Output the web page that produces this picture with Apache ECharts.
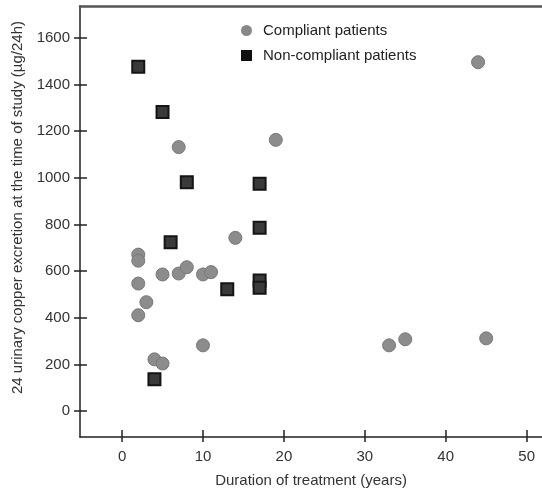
<!DOCTYPE html>
<html>
<head>
<meta charset="utf-8">
<script src="https://cdn.jsdelivr.net/npm/echarts@6/dist/echarts.min.js"></script>
<style>
  html, body { margin: 0; padding: 0; background: #fff; }
  #chart { width: 542px; height: 493px; }
</style>
</head>
<body>
<div id="chart"></div>
<script>
// duration of treatment (years) / urinary copper (µg/24h)
const compliantYears = [44, 19, 7, 14, 2, 2, 5, 7, 8, 10, 11, 2, 3, 2, 10, 4, 5, 33, 35, 45];
const compliantCopper = [1496, 1163, 1132, 743, 671, 645, 586, 590, 617, 586, 596, 547, 467, 411, 282, 222, 204, 282, 308, 312];
const nonCompliantYears = [2, 5, 8, 17, 17, 6, 13, 17, 17, 4];
const nonCompliantCopper = [1477, 1283, 981, 975, 786, 724, 522, 560, 529, 137];
const xTicks = [0, 10, 20, 30, 40, 50];
const yTicks = [0, 200, 400, 600, 800, 1000, 1200, 1400, 1600];

const font = '"Liberation Sans", Arial, sans-serif';
const chart = echarts.init(document.getElementById('chart'));

const xBase = { type: 'value', min: -5.2, max: 51.9, splitLine: { show: false } };
const yBase = { type: 'value', min: -111, max: 1737, splitLine: { show: false } };
const plain = v => String(v);
const tickLine = { color: '#222', width: 1.5 };

const option = {
  animation: false,
  backgroundColor: '#fff',
  grid: { left: 80, top: 6, right: -2, bottom: 55 },
  legend: {
    orient: 'vertical',
    left: 236, top: 18,
    itemWidth: 11, itemHeight: 11, itemGap: 10,
    textStyle: { fontFamily: font, fontSize: 15, color: '#222', padding: [0, 0, 0, 6] },
    data: [
      { name: 'Compliant patients', icon: 'circle', itemStyle: { color: '#888', borderWidth: 0, opacity: 1 } },
      { name: 'Non-compliant patients', icon: 'rect', itemStyle: { color: '#111', borderWidth: 0, opacity: 1 } }
    ]
  },
  xAxis: [
    Object.assign({}, xBase, {
      name: 'Duration of treatment (years)',
      nameLocation: 'middle', nameGap: 36,
      nameTextStyle: { fontFamily: font, fontSize: 15, color: '#333' },
      axisLine: { onZero: false, lineStyle: { color: '#222', width: 1.5 } },
      axisTick: { length: 5, customValues: xTicks, lineStyle: tickLine },
      axisLabel: { margin: 12, customValues: xTicks, formatter: plain, fontFamily: font, fontSize: 15, color: '#333' }
    }),
    Object.assign({}, xBase, {
      position: 'bottom',
      axisLine: { show: false, onZero: false },
      axisTick: { inside: true, length: 7, customValues: xTicks, lineStyle: tickLine },
      axisLabel: { show: false }
    }),
    Object.assign({}, xBase, {
      position: 'top',
      axisLine: { onZero: false, lineStyle: { color: '#555', width: 2.5 } },
      axisTick: { show: false },
      axisLabel: { show: false }
    })
  ],
  yAxis: [
    Object.assign({}, yBase, {
      name: '24 urinary copper excretion at the time of study (µg/24h)',
      nameLocation: 'middle', nameGap: 55,
      nameTextStyle: { fontFamily: font, fontSize: 15, color: '#333', padding: [0, 0, 0, 28] },
      axisLine: { onZero: false, lineStyle: { color: '#222', width: 1.5 } },
      axisTick: { length: 6, customValues: yTicks, lineStyle: tickLine },
      axisLabel: { margin: 10, customValues: yTicks, formatter: plain, fontFamily: font, fontSize: 15, color: '#333' }
    }),
    Object.assign({}, yBase, {
      position: 'left',
      axisLine: { show: false, onZero: false },
      axisTick: { inside: true, length: 7, customValues: yTicks, lineStyle: tickLine },
      axisLabel: { show: false }
    })
  ],
  series: [
    {
      name: 'Compliant patients',
      type: 'scatter',
      symbol: 'circle',
      symbolSize: 13,
      itemStyle: { color: '#8c8c8c', borderColor: '#787878', borderWidth: 1, opacity: 1 },
      data: compliantYears.map((x, i) => [x, compliantCopper[i]])
    },
    {
      name: 'Non-compliant patients',
      type: 'scatter',
      symbol: 'rect',
      symbolSize: 12,
      itemStyle: { color: '#3a3a3a', borderColor: '#151515', borderWidth: 2, opacity: 1 },
      data: nonCompliantYears.map((x, i) => [x, nonCompliantCopper[i]])
    }
  ]
};

chart.setOption(option);
window.addEventListener('resize', () => chart.resize());
</script>
</body>
</html>
